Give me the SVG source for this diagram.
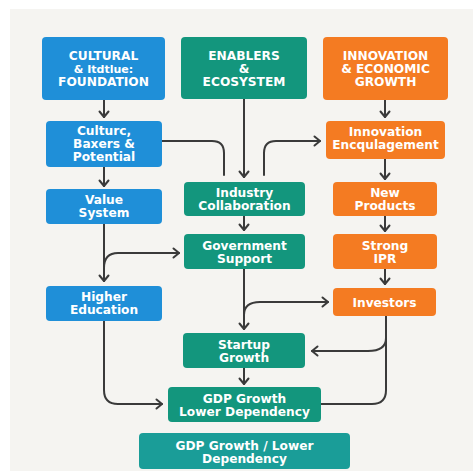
<svg xmlns="http://www.w3.org/2000/svg" width="473" height="471" viewBox="0 0 473 471">
<defs>
<style>
.b{stroke:none}
.blue{fill:#1f8fd8}
.green{fill:#13967d}
.orange{fill:#f47b22}
.teal{fill:#1a9d98}
text{font-family:"DejaVu Sans","Liberation Sans",sans-serif;font-weight:bold;font-size:12.2px;fill:#ffffff;text-anchor:middle}
.c{fill:none;stroke:#3a3a3a;stroke-width:2;stroke-linecap:round;stroke-linejoin:round}
</style>
<marker id="ah" markerUnits="userSpaceOnUse" markerWidth="10" markerHeight="12" refX="7" refY="6" orient="auto">
<path d="M1.5,1.5 L7,6 L1.5,10.5" fill="none" stroke="#3a3a3a" stroke-width="2" stroke-linecap="round" stroke-linejoin="round"/>
</marker>
</defs>
<rect width="473" height="471" fill="#ffffff"/>
<rect x="10" y="9" width="463" height="462" fill="#f5f4f1"/>

<g id="connectors">
<path class="c" d="M104,100 V117" marker-end="url(#ah)"/>
<path class="c" d="M104,167 V186" marker-end="url(#ah)"/>
<path class="c" d="M104,224 V281" marker-end="url(#ah)"/>
<path class="c" d="M104,268 C104,258 108,253 118,253 H179" marker-end="url(#ah)"/>
<path class="c" d="M162,141 H212 Q224,141 224,153 V175"/>
<path class="c" d="M244,99 V177" marker-end="url(#ah)"/>
<path class="c" d="M264,175 V153 Q264,141 276,141 H320" marker-end="url(#ah)"/>
<path class="c" d="M385,100 V117" marker-end="url(#ah)"/>
<path class="c" d="M385,159 V179" marker-end="url(#ah)"/>
<path class="c" d="M244,216 V230" marker-end="url(#ah)"/>
<path class="c" d="M385,216 V231" marker-end="url(#ah)"/>
<path class="c" d="M385,269 V284" marker-end="url(#ah)"/>
<path class="c" d="M244,269 V329" marker-end="url(#ah)"/>
<path class="c" d="M244,315 C244,306 250,302 260,302 H328" marker-end="url(#ah)"/>
<path class="c" d="M386,316 V390 Q386,404 372,404 H321"/>
<path class="c" d="M386,338 C386,347 380,351 368,351 H312" marker-end="url(#ah)"/>
<path class="c" d="M244,368 V384" marker-end="url(#ah)"/>
<path class="c" d="M104,321 V390 Q104,404 118,404 H162" marker-end="url(#ah)"/>
</g>

<g id="cultural-foundation">
<rect class="b blue" x="42" y="37" width="123" height="63" rx="4"/>
<text x="103.5" y="60">CULTURAL</text>
<text x="103.5" y="73" style="font-size:11px">&amp; Itdtlue:</text>
<text x="103.5" y="86">FOUNDATION</text>
</g>
<g id="enablers-ecosystem">
<rect class="b green" x="181" y="37" width="126" height="62" rx="4"/>
<text x="244" y="60">ENABLERS</text>
<text x="244" y="73">&amp;</text>
<text x="244" y="86">ECOSYSTEM</text>
</g>
<g id="innovation-growth">
<rect class="b orange" x="323" y="37" width="125" height="63" rx="4"/>
<text x="385.5" y="60">INNOVATION</text>
<text x="385.5" y="73">&amp; ECONOMIC</text>
<text x="385.5" y="86">GROWTH</text>
</g>
<g id="culture-baxers">
<rect class="b blue" x="46" y="121" width="116" height="46" rx="4"/>
<text x="104" y="135">Culturc,</text>
<text x="104" y="148">Baxers &amp;</text>
<text x="104" y="161">Potential</text>
</g>
<g id="innovation-encqulagement">
<rect class="b orange" x="326" y="121" width="119" height="38" rx="4"/>
<text x="385.5" y="135.5">Innovation</text>
<text x="385.5" y="148.5">Encqulagement</text>
</g>
<g id="value-system">
<rect class="b blue" x="46" y="189" width="116" height="35" rx="4"/>
<text x="104" y="203.5">Value</text>
<text x="104" y="216.5">System</text>
</g>
<g id="industry-collaboration">
<rect class="b green" x="184" y="182" width="121" height="34" rx="4"/>
<text x="244.5" y="196.5">Industry</text>
<text x="244.5" y="209.5">Collaboration</text>
</g>
<g id="new-products">
<rect class="b orange" x="333" y="182" width="104" height="34" rx="4"/>
<text x="385" y="196.5">New</text>
<text x="385" y="209.5">Products</text>
</g>
<g id="government-support">
<rect class="b green" x="184" y="234" width="121" height="35" rx="4"/>
<text x="244.5" y="249.5">Government</text>
<text x="244.5" y="262.5">Support</text>
</g>
<g id="strong-ipr">
<rect class="b orange" x="333" y="234" width="104" height="35" rx="4"/>
<text x="385" y="249.5">Strong</text>
<text x="385" y="262.5">IPR</text>
</g>
<g id="higher-education">
<rect class="b blue" x="46" y="286" width="116" height="35" rx="4"/>
<text x="104" y="300.5">Higher</text>
<text x="104" y="313.5">Education</text>
</g>
<g id="investors">
<rect class="b orange" x="333" y="288" width="103" height="28" rx="4"/>
<text x="384.5" y="306.5">Investors</text>
</g>
<g id="startup-growth">
<rect class="b green" x="183" y="333" width="122" height="35" rx="4"/>
<text x="244" y="348.5">Startup</text>
<text x="244" y="361.5">Growth</text>
</g>
<g id="gdp-growth">
<rect class="b green" x="168" y="387" width="153" height="35" rx="4"/>
<text x="244.5" y="402.5">GDP Growth</text>
<text x="244.5" y="415.5">Lower Dependency</text>
</g>
<g id="gdp-growth-lower-dependency">
<rect class="b teal" x="139" y="433" width="211" height="36" rx="4"/>
<text x="244.5" y="449.5">GDP Growth / Lower</text>
<text x="244.5" y="462.5">Dependency</text>
</g>
</svg>
